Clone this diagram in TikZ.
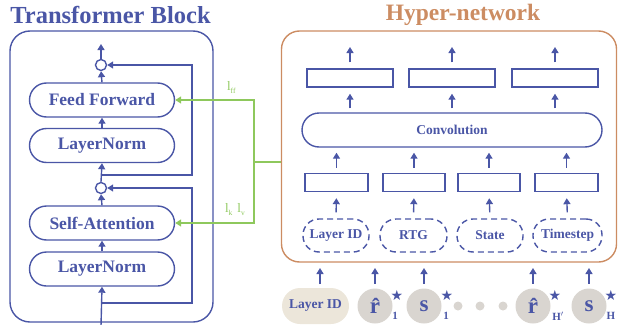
\documentclass[tikz,border=0pt]{standalone}
\usepackage{fontspec}
\setmainfont{Liberation Serif}
\newfontfamily\symfont{DejaVu Sans}
\usetikzlibrary{arrows.meta}
\definecolor{tblue}{RGB}{74,86,166}
\definecolor{hbrown}{RGB}{204,140,98}
\definecolor{tgreen}{RGB}{142,200,92}
\definecolor{pillbg}{RGB}{236,230,218}
\definecolor{circbg}{RGB}{217,213,208}
\begin{document}
\begin{tikzpicture}[x=1pt,y=-1pt,line width=1.4pt,
  >={Triangle[length=6pt,width=7pt]},
  every node/.style={text=tblue,font=\bfseries},
  pill/.style={draw=tblue,rectangle,rounded corners=17pt,minimum width=145pt,minimum height=34pt,inner sep=0pt,font=\bfseries\fontsize{17.5}{18}\selectfont},
  addc/.style={draw=tblue,circle,minimum size=11pt,inner sep=0pt},
  flow/.style={draw=tblue,->},
  gflow/.style={draw=tgreen,->},
  rbox/.style={draw=tblue,rectangle,minimum height=18pt,inner sep=0pt},
  dbox/.style={draw=tblue,dashed,dash pattern=on 6pt off 4pt,rectangle,rounded corners=16pt,minimum height=33pt,inner sep=0pt,font=\bfseries\fontsize{13.5}{14}\selectfont},
  ball/.style={circle,fill=circbg,minimum size=35pt,inner sep=0pt,font=\bfseries\fontsize{23}{23}\selectfont},
  sup/.style={font=\symfont\fontsize{14}{14}\selectfont,text=tblue},
  sub/.style={font=\bfseries\fontsize{11}{11}\selectfont,text=tblue},
  dot/.style={circle,fill=circbg,minimum size=9pt,inner sep=0pt}]
\useasboundingbox (0,0) rectangle (618,324);

% ---------- Transformer block ----------
\node[font=\bfseries\fontsize{24.5}{25}\selectfont] (ttitle) at (110.5,15) {Transformer Block};
\node[draw=tblue,rectangle,rounded corners=20pt,minimum width=203pt,minimum height=291pt,inner sep=0pt] (tb) at (111.5,176.5) {};

\node[pill] (ff) at (102,100) {Feed Forward};
\node[pill] (ln1) at (102,145.5) {LayerNorm};
\node[pill] (sa) at (102,223) {Self-Attention};
\node[pill] (ln2) at (102,269) {LayerNorm};
\node[addc] (c1) at (101,65) {};
\node[addc] (c2) at (101,188) {};

\coordinate (tout) at (101,44);
\coordinate (tin) at (101,326);
\coordinate (j1) at (101,175);
\coordinate (r1) at (192,175);
\coordinate (r1t) at (192,65);
\coordinate (j2) at (101,303);
\coordinate (r2) at (192,303);
\coordinate (r2t) at (192,188);

\draw[flow] (c1.north) -- (tout);
\draw[flow] (ff.north) -- (c1.south);
\draw[flow] (ln1.north) -- (ff.south);
\draw[flow] (c2.north) -- (ln1.south);
\draw[flow] (j1) -- (r1) -- (r1t) -- (c1.east);
\draw[flow] (sa.north) -- (c2.south);
\draw[flow] (ln2.north) -- (sa.south);
\draw[flow] (tin) -- (ln2.south);
\draw[flow] (j2) -- (r2) -- (r2t) -- (c2.east);

% ---------- green connectors ----------
\coordinate (gh) at (281,162);
\coordinate (g0) at (254,162);
\draw[tgreen] (gh) -- (g0);
\draw[gflow] (g0) |- (ff.east);
\draw[gflow] (g0) |- (sa.east);
\node[text=tgreen,font=\fontsize{13}{13}\selectfont,anchor=west] (lff) at (223,87) {l\raisebox{-3pt}{\fontsize{7.5}{7.5}\selectfont ff}};
\node[text=tgreen,font=\fontsize{13}{13}\selectfont,anchor=west] (lkv) at (221,210) {l\raisebox{-3pt}{\fontsize{7.5}{7.5}\selectfont k}\hspace{5pt}l\raisebox{-3pt}{\fontsize{7.5}{7.5}\selectfont v}};

% ---------- Hyper-network ----------
\node[text=hbrown,font=\bfseries\fontsize{23.5}{24}\selectfont] (htitle) at (463,15) {Hyper-network};
\node[draw=hbrown,rectangle,rounded corners=18pt,minimum width=335pt,minimum height=231pt,inner sep=0pt] (hb) at (449,146.5) {};

\node[rbox,minimum width=86pt] (t1) at (350,78) {};
\node[rbox,minimum width=86pt] (t2) at (452,78) {};
\node[rbox,minimum width=86pt] (t3) at (555,78) {};
\coordinate (o1) at (350,47);
\coordinate (o2) at (452,47);
\coordinate (o3) at (555,47);
\draw[flow,shorten <=6pt] (t1.north) -- (o1);
\draw[flow,shorten <=6pt] (t2.north) -- (o2);
\draw[flow,shorten <=6pt] (t3.north) -- (o3);

\node[draw=tblue,rectangle,rounded corners=17pt,minimum width=300pt,minimum height=34pt,inner sep=0pt,font=\bfseries\fontsize{13.5}{14}\selectfont] (conv) at (452,130) {Convolution};

\draw[flow,shorten <=4pt,shorten >=6pt] (t1.south |- conv.north) -- (t1.south);
\draw[flow,shorten <=4pt,shorten >=6pt] (t2.south |- conv.north) -- (t2.south);
\draw[flow,shorten <=4pt,shorten >=6pt] (t3.south |- conv.north) -- (t3.south);

\node[rbox,minimum width=63pt] (b1) at (336.5,182.5) {};
\node[rbox,minimum width=62pt] (b2) at (414,182.5) {};
\node[rbox,minimum width=62pt] (b3) at (489,182.5) {};
\node[rbox,minimum width=63pt] (b4) at (566.5,182.5) {};

\draw[flow,shorten <=5pt,shorten >=5pt] (b1.north) -- (b1.north |- conv.south);
\draw[flow,shorten <=5pt,shorten >=5pt] (b2.north) -- (b2.north |- conv.south);
\draw[flow,shorten <=5pt,shorten >=5pt] (b3.north) -- (b3.north |- conv.south);
\draw[flow,shorten <=5pt,shorten >=5pt] (b4.north) -- (b4.north |- conv.south);

\node[dbox,minimum width=66pt] (d1) at (336,235.5) {Layer ID};
\node[dbox,minimum width=67pt] (d2) at (413.5,235.5) {RTG};
\node[dbox,minimum width=66pt] (d3) at (490,235.5) {State};
\node[dbox,minimum width=69pt] (d4) at (567.5,235.5) {Timestep};

\draw[flow,shorten <=6pt,shorten >=6pt] (d1.north) -- (b1.south);
\draw[flow,shorten <=6pt,shorten >=6pt] (d2.north) -- (b2.south);
\draw[flow,shorten <=6pt,shorten >=6pt] (d3.north) -- (b3.south);
\draw[flow,shorten <=6pt,shorten >=6pt] (d4.north) -- (b4.south);

% ---------- inputs ----------
\node[rectangle,rounded corners=18pt,fill=pillbg,minimum width=67pt,minimum height=36pt,inner sep=0pt,font=\bfseries\fontsize{13.5}{14}\selectfont] (lid) at (315.5,306) {Layer ID};
\node[ball] (r1b) at (375,306) {\^{r}};
\node[ball,font=\bfseries\fontsize{23}{23}\selectfont] (s1b) at (424,306) {s};
\node[dot] (dt1) at (458,306) {};
\node[dot] (dt2) at (480,306) {};
\node[dot] (dt3) at (503,306) {};
\node[ball] (rHb) at (533,306) {\^{r}};
\node[ball,font=\bfseries\fontsize{23}{23}\selectfont] (sHb) at (589,306) {s};

\node[sup] (st1) at (397,295) {★};
\node[sub] (sb1) at (395,316) {1};
\node[sup] (st2) at (447,295) {★};
\node[sub] (sb2) at (446,316) {1};
\node[sup] (st3) at (555,295) {★};
\node[sub] (sb3) at (558,316) {H$'$};
\node[sup] (st4) at (611,295) {★};
\node[sub] (sb4) at (611,316) {H};

\coordinate (a1) at (320,268);
\coordinate (a2) at (375,268);
\coordinate (a3) at (424,268);
\coordinate (a4) at (533,268);
\coordinate (a5) at (589,268);
\draw[flow] (320,284) -- (a1);
\draw[flow,shorten <=4pt] (r1b.north) -- (a2);
\draw[flow,shorten <=4pt] (s1b.north) -- (a3);
\draw[flow,shorten <=4pt] (rHb.north) -- (a4);
\draw[flow,shorten <=4pt] (sHb.north) -- (a5);
\end{tikzpicture}
\end{document}
